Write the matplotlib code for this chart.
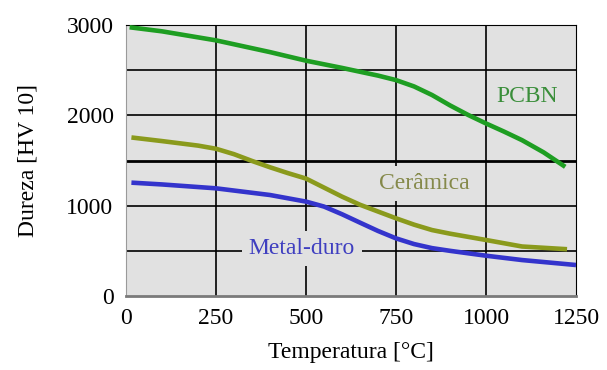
import matplotlib
matplotlib.use("Agg")
import matplotlib.pyplot as plt

# values
temp_pcbn = [10, 100, 250, 400, 500, 600, 700, 750, 800, 850, 900, 950, 1000, 1050, 1100, 1160, 1220]
pcbn = [2975, 2930, 2830, 2700, 2605, 2525, 2440, 2390, 2320, 2225, 2110, 2005, 1910, 1820, 1725, 1590, 1430]

temp_ceram = [15, 100, 200, 250, 300, 350, 400, 450, 500, 550, 600, 650, 700, 750, 800, 850, 900, 1000, 1100, 1225]
ceramica = [1755, 1715, 1665, 1630, 1570, 1495, 1425, 1360, 1300, 1200, 1100, 1010, 935, 860, 790, 730, 690, 620, 548, 518]

temp_metal = [15, 100, 250, 400, 500, 550, 600, 650, 700, 750, 800, 850, 900, 1000, 1100, 1250]
metal = [1255, 1235, 1192, 1118, 1045, 990, 905, 812, 720, 638, 575, 530, 500, 446, 398, 343]

x_ticks = [0, 250, 500, 750, 1000, 1250]
y_ticks = [0, 1000, 2000, 3000]
grid_y = [500, 1000, 1500, 2000, 2500]
grid_x = [250, 500, 750, 1000]

plt.rcParams["font.family"] = ["Liberation Serif", "DejaVu Serif"]

fig = plt.figure(figsize=(6.07, 3.70), dpi=100)
ax = fig.add_axes([0.2076, 0.2, 0.7414, 0.7324])
ax.set_facecolor("#e1e1e1")

for gx in grid_x:
    ax.axvline(gx, color="black", lw=1.2, zorder=1)
for gy in grid_y:
    ax.axhline(gy, color="black", lw=2.0 if gy == 1500 else 1.2, zorder=1)

ax.plot(temp_pcbn, pcbn, color="#1e9e22", lw=3.3, zorder=3, solid_capstyle="butt")
ax.plot(temp_ceram, ceramica, color="#8a9a1c", lw=3.3, zorder=3, solid_capstyle="butt")
ax.plot(temp_metal, metal, color="#3434cc", lw=3.3, zorder=3, solid_capstyle="butt")

box = dict(facecolor="#e1e1e1", edgecolor="none", pad=5)
ax.text(1113, 2207, "PCBN", color="#3a8e3a", fontsize=17, ha="center", va="center", zorder=2)
ax.text(828, 1247, "Cerâmica", color="#85894a", fontsize=17, ha="center", va="center", bbox=box, zorder=2)
ax.text(488, 528, "Metal-duro", color="#3f3fc0", fontsize=17, ha="center", va="center", bbox=box, zorder=2)

ax.set_xlim(0, 1250)
ax.set_ylim(0, 3000)
ax.set_xticks(x_ticks)
ax.set_yticks(y_ticks)
ax.tick_params(length=0, labelsize=17)
ax.tick_params(axis="x", pad=9)
ax.tick_params(axis="y", pad=9)

ax.spines["top"].set_color("black")
ax.spines["right"].set_color("black")
ax.spines["bottom"].set_color("#7a7a7a")
ax.spines["bottom"].set_linewidth(2)
ax.spines["left"].set_color("#9a9a9a")

ax.set_xlabel("Temperatura [°C]", fontsize=17)
ax.set_ylabel("Dureza [HV 10]", fontsize=17)
ax.xaxis.set_label_coords(0.5, -0.17)
ax.yaxis.set_label_coords(-0.195, 0.5)

fig.savefig("out.png", dpi=100)
